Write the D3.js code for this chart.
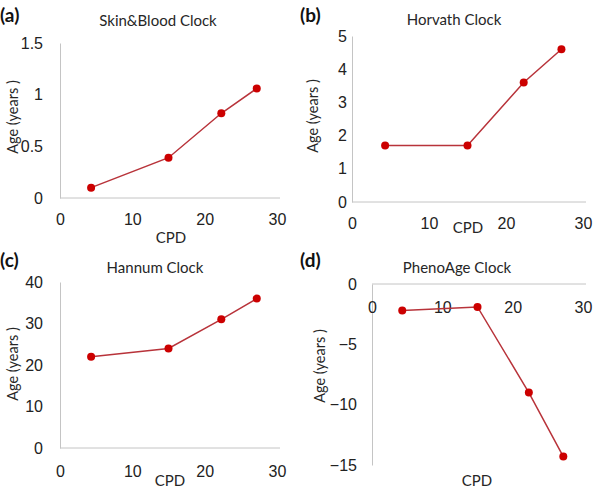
<!DOCTYPE html>
<html>
<head>
<meta charset="utf-8">
<script src="https://cdn.jsdelivr.net/npm/d3@7"></script>
<style>
  body { margin: 0; background: #fff; }
  svg { display: block; font-family: Lato, "Open Sans", sans-serif; }
  .tick text { fill: #222; }
</style>
</head>
<body>
<svg id="chart" width="600" height="490"></svg>
<script>
// data
const cpd = [4.3, 15, 22.3, 27.2];
const skinBlood = [0.10, 0.39, 0.82, 1.06];
const horvath = [1.7, 1.7, 3.6, 4.6];
const hannum = [22, 24, 31, 36];
const phenoAge = [-2.2, -1.9, -9.0, -14.3];

const xTicks = [0, 10, 20, 30];
const panelTags = ["(a)", "(b)", "(c)", "(d)"];
const panelTitles = ["Skin&Blood Clock", "Horvath Clock", "Hannum Clock", "PhenoAge Clock"];
const yDomains = [[0, 1.5], [0, 5], [0, 40], [0, -15]];
const yTicks = [[0, 0.5, 1, 1.5], [0, 1, 2, 3, 4, 5], [0, 10, 20, 30, 40], [0, -5, -10, -15]];
const series = [skinBlood, horvath, hannum, phenoAge];

// layout of each panel (pixels)
const layouts = [
    { ox: 0,   oy: 0,   x0: 60,  x1: 277, y0: 198, y1: 43,  yPad: 17, xLab: 226, cpdX: 171, cpdY: 243, yTitleX: 13,  yTitleY: 117, titleX: 158, titleY: 26 },
    { ox: 300, oy: 0,   x0: 352, x1: 583, y0: 202, y1: 36,  yPad: 5,  xLab: 230, cpdX: 468, cpdY: 233, yTitleX: 313, yTitleY: 116, titleX: 454, titleY: 25 },
    { ox: 0,   oy: 245, x0: 60,  x1: 277, y0: 448, y1: 282, yPad: 17, xLab: 478, cpdX: 170, cpdY: 486, yTitleX: 13,  yTitleY: 364, titleX: 155, titleY: 273 },
    { ox: 300, oy: 245, x0: 372, x1: 583, y0: 284, y1: 465, yPad: 15, xLab: 314, cpdX: 477, cpdY: 486, yTitleX: 320, yTitleY: 366, titleX: 457, titleY: 273 }
];

const svg = d3.select("#chart");
const axisColor = "#c4c4c4";
const lineColor = "#b8333a";
const dotColor = "#cc0000";
const textColor = "#262626";

layouts.forEach((L, i) => {
    const g = svg.append("g").attr("class", "panel");

    const x = d3.scaleLinear().domain([0, 30]).range([L.x0, L.x1]);
    const y = d3.scaleLinear().domain(yDomains[i]).range([L.y0, L.y1]);
    const xAxisY = y(0);

    // y axis
    g.append("g")
        .attr("transform", `translate(${L.x0},0)`)
        .call(d3.axisLeft(y).tickValues(yTicks[i]).tickSize(0).tickPadding(L.yPad)
            .tickFormat(d3.format("~g")))
        .call(s => s.select(".domain").attr("stroke", axisColor));

    // x axis
    g.append("g")
        .attr("transform", `translate(0,${xAxisY})`)
        .call(d3.axisBottom(x).tickValues(xTicks).tickSize(0).tickPadding(L.xLab - xAxisY - 12))
        .call(s => s.select(".domain").attr("stroke", axisColor).attr("d", `M${L.x0},0H${L.x1 + 3}`));

    g.selectAll(".tick text").style("font-size", "16px").attr("fill", textColor);

    // line + markers
    const pts = cpd.map((c, k) => ({ c, v: series[i][k] }));
    const line = d3.line().x(d => x(d.c)).y(d => y(d.v));
    g.append("path")
        .datum(pts)
        .attr("d", line)
        .attr("fill", "none")
        .attr("stroke", lineColor)
        .attr("stroke-width", 1.5);
    g.selectAll("circle")
        .data(pts)
        .enter().append("circle")
        .attr("cx", d => x(d.c))
        .attr("cy", d => y(d.v))
        .attr("r", 4)
        .attr("fill", dotColor);

    // texts
    g.append("text")
        .attr("x", L.titleX).attr("y", L.titleY)
        .attr("text-anchor", "middle")
        .style("font-size", "15px").attr("fill", textColor)
        .text(panelTitles[i]);
    g.append("text")
        .attr("x", L.cpdX).attr("y", L.cpdY)
        .attr("text-anchor", "middle")
        .style("font-size", "15px").attr("fill", textColor)
        .text("CPD");
    g.append("text")
        .attr("transform", `translate(${L.yTitleX + 5},${L.yTitleY}) rotate(-90)`)
        .attr("text-anchor", "middle")
        .style("font-size", "14.5px").attr("fill", textColor)
        .text("Age (years )");
    g.append("text")
        .attr("x", L.ox).attr("y", L.oy + 22)
        .style("font-size", "19px").style("font-weight", "bold").attr("fill", "#111")
        .text(panelTags[i]);
});
</script>
</body>
</html>
